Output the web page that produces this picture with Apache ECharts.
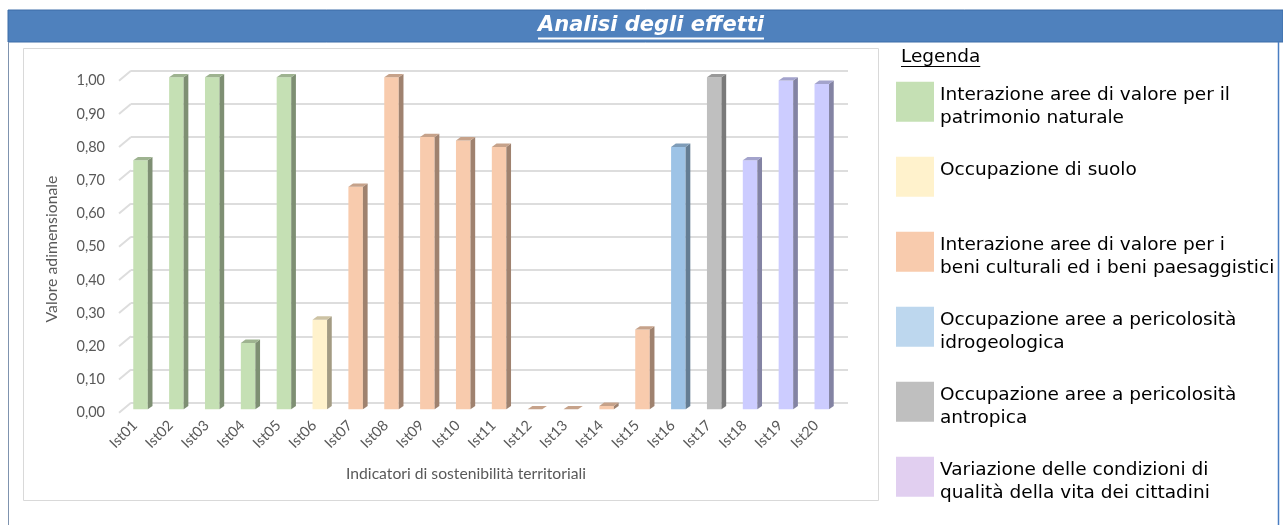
<!DOCTYPE html>
<html>
<head>
<meta charset="utf-8">
<script src="https://cdn.jsdelivr.net/npm/echarts@6/dist/echarts.min.js"></script>
<style>
  html, body { margin: 0; padding: 0; background: #ffffff; }
  #chart { width: 1283px; height: 525px; }
</style>
</head>
<body>
<div id="chart"></div>
<script>
// Indicators and their dimensionless values
const categories = ['Ist01', 'Ist02', 'Ist03', 'Ist04', 'Ist05', 'Ist06', 'Ist07', 'Ist08', 'Ist09', 'Ist10',
                    'Ist11', 'Ist12', 'Ist13', 'Ist14', 'Ist15', 'Ist16', 'Ist17', 'Ist18', 'Ist19', 'Ist20'];
const values = [0.75, 1.00, 1.00, 0.20, 1.00, 0.27, 0.67, 1.00, 0.82, 0.81,
                0.79, 0.00, 0.00, 0.01, 0.24, 0.79, 1.00, 0.75, 0.99, 0.98];
// Effect group each indicator belongs to (index into groupNames)
const groupOfIndicator = [0, 0, 0, 0, 0, 1, 2, 2, 2, 2, 2, 2, 2, 2, 2, 3, 4, 5, 5, 5];
const groupNames = [
  ['Interazione aree di valore per il', 'patrimonio naturale'],
  ['Occupazione di suolo'],
  ['Interazione aree di valore per i', 'beni culturali ed i beni paesaggistici'],
  ['Occupazione aree a pericolosità', 'idrogeologica'],
  ['Occupazione aree a pericolosità', 'antropica'],
  ['Variazione delle condizioni di', 'qualità della vita dei cittadini']
];
const barColors = ['#C5E0B4', '#FFF2CC', '#F8CBAD', '#9DC3E6', '#BFBFBF', '#CCCCFF'];
const legendColors = ['#C5E0B4', '#FFF2CC', '#F8CBAD', '#BDD7EE', '#BFBFBF', '#E1CFF0'];
const yTicks = [0, 0.1, 0.2, 0.3, 0.4, 0.5, 0.6, 0.7, 0.8, 0.9, 1.0];

const titleText = 'Analisi degli effetti';
const legendTitle = 'Legenda';
const yAxisTitle = 'Valore adimensionale';
const xAxisTitle = 'Indicatori di sostenibilità territoriali';

const labelFont = 'Lato, "Open Sans", sans-serif';
const legendFont = '"DejaVu Sans", Verdana, sans-serif';

function shade(hex, f) {
  const n = parseInt(hex.slice(1), 16);
  const r = Math.round(((n >> 16) & 255) * f);
  const g = Math.round(((n >> 8) & 255) * f);
  const b = Math.round((n & 255) * f);
  return 'rgb(' + r + ',' + g + ',' + b + ')';
}

const measureCtx = document.createElement('canvas').getContext('2d');
function textWidth(text, font) {
  measureCtx.font = font;
  return measureCtx.measureText(text).width;
}

const chart = echarts.init(document.getElementById('chart'), null, { renderer: 'canvas' });

// Back wall, bar plane and label plane share the 0..1 scale, offset for the 3D look
const wall = { left: 131, top: 70.7, width: 717, height: 332 };
const barsGrid = { left: 122.6, top: 77.3, width: 717.1, height: 332 };
const labelsGrid = { left: 117, top: 80.7, width: 10, height: 332 };

const depthX = 4.7, depthY = 3.4;

const titleFont = 'italic bold 21px ' + legendFont;
const titleW = textWidth(titleText, titleFont);
const legendSize = 18.5;
const legendTitleFont = legendSize + 'px ' + legendFont;
const legendTitleW = textWidth(legendTitle, legendTitleFont);

const graphics = [
  // title band
  { type: 'rect', shape: { x: 8, y: 10, width: 1275, height: 32 },
    style: { fill: '#4F81BD', stroke: '#3C6CA8', lineWidth: 1 }, z: 0 },
  { type: 'text', x: 651, y: 26,
    style: { text: titleText, font: titleFont, fill: '#ffffff', align: 'center', verticalAlign: 'middle' }, z: 2 },
  { type: 'line', shape: { x1: 651 - titleW / 2, y1: 38.5, x2: 651 + titleW / 2, y2: 38.5 },
    style: { stroke: '#ffffff', lineWidth: 2 }, z: 2 },
  // frame lines
  { type: 'line', shape: { x1: 8.5, y1: 42, x2: 8.5, y2: 525 }, style: { stroke: '#7F93AF', lineWidth: 1 } },
  { type: 'line', shape: { x1: 1278.5, y1: 42, x2: 1278.5, y2: 525 }, style: { stroke: '#4A7EC2', lineWidth: 1.5 } },
  // chart area border
  { type: 'rect', shape: { x: 23.5, y: 48.5, width: 855, height: 452 },
    style: { fill: 'none', stroke: '#D9D9D9', lineWidth: 1 } },
  // axis titles
  { type: 'text', x: 52, y: 249, rotation: Math.PI / 2,
    style: { text: yAxisTitle, font: '15.8px ' + labelFont, fill: '#595959', align: 'center', verticalAlign: 'middle' } },
  { type: 'text', x: 466, y: 474,
    style: { text: xAxisTitle, font: '15.7px ' + labelFont, fill: '#595959', align: 'center', verticalAlign: 'middle' } },
  // legend heading
  { type: 'text', x: 901, y: 57,
    style: { text: legendTitle, font: legendTitleFont, fill: '#000000', align: 'left', verticalAlign: 'middle' } },
  { type: 'line', shape: { x1: 901, y1: 66.5, x2: 901 + legendTitleW, y2: 66.5 },
    style: { stroke: '#000000', lineWidth: 1 } }
];

groupNames.forEach(function (lines, i) {
  const top = 81.7 + 75 * i;
  graphics.push({ type: 'rect', shape: { x: 896, y: top, width: 38, height: 40 },
    style: { fill: legendColors[i] } });
  graphics.push({ type: 'text', x: 940, y: top + 1.5,
    style: { text: lines.join('\n'), font: legendSize + 'px ' + legendFont, lineHeight: 23.5,
             fill: '#000000', align: 'left', verticalAlign: 'top' } });
});

const option = {
  animation: false,
  backgroundColor: '#ffffff',
  grid: [
    Object.assign({ containLabel: false }, wall),
    Object.assign({ containLabel: false }, barsGrid),
    Object.assign({ containLabel: false }, labelsGrid)
  ],
  xAxis: [
    { gridIndex: 0, type: 'value', min: 0, max: 1, show: false },
    { gridIndex: 1, type: 'category', data: categories, boundaryGap: true,
      axisLine: { show: false }, axisTick: { show: false }, splitLine: { show: false },
      axisLabel: { rotate: 45, margin: 8, padding: [0, 8, 0, 0], color: '#595959', fontSize: 14.5,
                   fontFamily: labelFont, interval: 0 } },
    { gridIndex: 2, type: 'value', min: 0, max: 1, show: false }
  ],
  yAxis: [
    { gridIndex: 0, type: 'value', min: 0, max: 1, interval: 0.1,
      axisLine: { show: false }, axisTick: { show: false }, axisLabel: { show: false },
      splitLine: { show: true, lineStyle: { color: '#DDDDDD', width: 2 } } },
    { gridIndex: 1, type: 'value', min: 0, max: 1, show: false, splitLine: { show: false } },
    { gridIndex: 2, type: 'value', min: 0, max: 1, interval: 0.1,
      axisLine: { show: false }, axisTick: { show: false }, splitLine: { show: false },
      axisLabel: { margin: 12, color: '#595959', fontSize: 14.5, fontFamily: labelFont,
                   formatter: function (v) { return v.toFixed(2).replace('.', ','); } } }
  ],
  graphic: graphics,
  series: [
    {
      // slanted side-wall ticks joining the labels to the back wall
      type: 'custom', name: 'wallTicks', xAxisIndex: 0, yAxisIndex: 0, silent: true,
      data: yTicks.map(function (v) { return [0, v]; }),
      renderItem: function (params, api) {
        const p = api.coord([api.value(0), api.value(1)]);
        return { type: 'line', shape: { x1: p[0] - 12, y1: p[1] + 10, x2: p[0], y2: p[1] },
                 style: { stroke: '#DDDDDD', lineWidth: 2 } };
      }
    },
    {
      type: 'custom', name: 'indicators', xAxisIndex: 1, yAxisIndex: 1, silent: true,
      data: values.map(function (v, i) { return [i, v]; }),
      renderItem: function (params, api) {
        const idx = api.value(0);
        const base = api.coord([idx, 0]);
        const top = api.coord([idx, api.value(1)]);
        const w = api.size([1, 0])[0] * 0.405;
        const x0 = base[0] - w / 2;
        const x1 = x0 + w;
        const color = barColors[groupOfIndicator[idx]];
        return {
          type: 'group',
          children: [
            { type: 'rect', shape: { x: x0, y: top[1], width: w, height: base[1] - top[1] },
              style: { fill: color } },
            { type: 'polygon', shape: { points: [[x1, top[1]], [x1 + depthX, top[1] - depthY],
                                                 [x1 + depthX, base[1] - depthY], [x1, base[1]]] },
              style: { fill: shade(color, 0.64) } },
            { type: 'polygon', shape: { points: [[x0, top[1]], [x0 + depthX, top[1] - depthY],
                                                 [x1 + depthX, top[1] - depthY], [x1, top[1]]] },
              style: { fill: shade(color, 0.8) } }
          ]
        };
      }
    }
  ]
};

chart.setOption(option);
</script>
</body>
</html>
